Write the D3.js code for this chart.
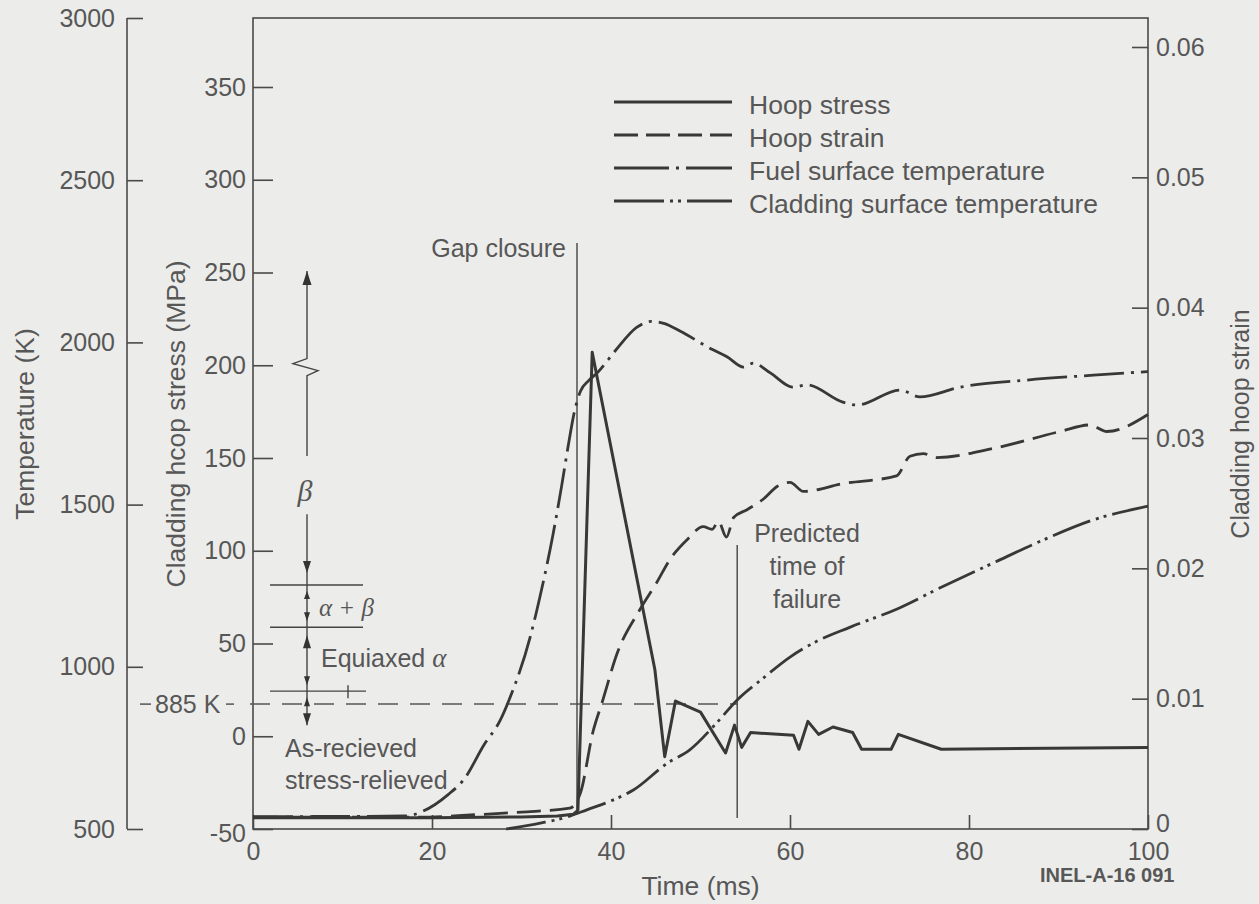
<!DOCTYPE html>
<html>
<head>
<meta charset="utf-8">
<script src="https://cdn.jsdelivr.net/npm/d3@7"></script>
<style>
  html, body { margin: 0; padding: 0; background: #ececea; }
  svg { display: block; }
  text { font-family: "Liberation Sans", Arial, Helvetica, sans-serif; fill: #575757; }
  .serif { font-family: "Liberation Serif", "Times New Roman", serif; }
</style>
</head>
<body>
<svg id="chart" width="1259" height="904"></svg>
<script>
// ---- axis ticks ----
const timeTicks   = [0, 20, 40, 60, 80, 100];
const stressTicks = [-50, 0, 50, 100, 150, 200, 250, 300, 350];
const tempTicks   = [500, 1000, 1500, 2000, 2500, 3000];
const strainTicks = [0, 0.01, 0.02, 0.03, 0.04, 0.05, 0.06];

// ---- series: [time (ms), value] ----
// cladding hoop stress, MPa
const hoopStress = [
  [0, -44], [10, -44], [20, -44], [30, -43.5], [34, -43], [35.8, -42], [36.3, -40],
  [37.9, 207], [44.9, 36], [46.0, -11], [47.2, 19], [50.0, 13], [52.8, -9],
  [53.8, 6], [54.6, -6], [55.6, 2], [60.4, 0.5], [61.0, -7], [62.0, 8], [63.2, 1],
  [64.8, 5], [67.0, 2], [68.0, -7], [71.3, -7], [72.1, 1], [76.9, -7], [100, -6]
];
// cladding hoop strain
const hoopStrain = [
  [0, 0.0009], [18, 0.0009], [25, 0.0011], [30, 0.0013], [35.4, 0.0016], [36.6, 0.0028],
  [38.0, 0.0075], [39.0, 0.0097], [40.7, 0.0135], [43.2, 0.0168], [45.1, 0.0189],
  [46.6, 0.0207], [48.5, 0.0222], [50.3, 0.0232], [51.3, 0.0230], [52.0, 0.0236],
  [52.9, 0.0224], [53.7, 0.0239], [55.2, 0.0245], [57.0, 0.0253], [58.6, 0.0263],
  [60.0, 0.0266], [61.5, 0.0259], [65.9, 0.0265], [71.9, 0.0271], [73.4, 0.0286],
  [74.9, 0.0288], [76.4, 0.0285], [82.7, 0.0292], [90.2, 0.0305], [93.5, 0.0310],
  [95.4, 0.0305], [100, 0.0318]
];
// fuel surface temperature, K
const fuelTemp = [
  [0, 538], [17, 540], [19, 555], [21.8, 606], [23.6, 654], [25.8, 759], [27.6, 834],
  [28.6, 897], [31.0, 1095], [32.3, 1245], [33.5, 1405], [34.5, 1560], [35.2, 1678],
  [35.9, 1785], [36.6, 1850], [37.5, 1882], [38.5, 1907], [40.5, 1975], [42.9, 2047],
  [44.5, 2065], [46.0, 2058], [47.7, 2035], [51.4, 1977], [53.0, 1955], [54.8, 1924],
  [55.9, 1936], [57.8, 1906], [60.3, 1862], [61.9, 1869], [65.9, 1816], [67.5, 1807],
  [72.3, 1853], [74.5, 1832], [79.0, 1862], [86.5, 1884], [93.9, 1899], [100, 1910]
];
// cladding surface temperature, K
const cladTemp = [
  [28.3, 500], [32.1, 518], [35.1, 537], [37.3, 559], [40.2, 589], [42.5, 620],
  [46.3, 703], [48.8, 744], [51.8, 827], [54.1, 898], [57.0, 965], [60.0, 1030],
  [62.8, 1076], [66.8, 1123], [72.1, 1180], [76.9, 1245], [82.7, 1320], [88.3, 1391],
  [93.9, 1453], [100, 1495]
];

// ---- event markers ----
const gapClosureTime = 36.2;      // ms
const failureTime = 54.1;         // ms
const transitionTemp = 885;       // K
// zircaloy phase boundaries on the temperature scale, K
const phaseBounds = [1252, 1122, 925];

const legendItems = [
  { label: "Hoop stress", dash: null },
  { label: "Hoop strain", dash: "24,8" },
  { label: "Fuel surface temperature", dash: "55,7,3,7,55" },
  { label: "Cladding surface temperature", dash: "50,6,3,5,3,6,50" }
];

// ---- layout ----
const L = 253, R = 1148, T = 18, B = 829;
const svg = d3.select("#chart");
const ink = "#383838";
const plain = d => String(d).replace("\u2212", "-");

const x = d3.scaleLinear().domain([0, 100]).range([L, R]);
const yStress = d3.scaleLinear().domain([-50, 350]).range([B, 87]);
const yTemp = d3.scaleLinear().domain([500, 3000]).range([B, T]);
const yStrain = d3.scaleLinear().domain([0, 0.06]).range([B, 47]);

function styleAxis(g, size) {
  g.select(".domain").remove();
  g.selectAll(".tick line").attr("stroke", "#4a4a4a").attr("stroke-width", 1.6);
  g.selectAll(".tick text").attr("font-size", size).attr("fill", "#575757")
    .attr("font-family", "'Liberation Sans', Arial, sans-serif");
}

// plot frame
svg.append("rect").attr("x", L).attr("y", T).attr("width", R - L).attr("height", B - T)
  .attr("fill", "none").attr("stroke", "#4a4a4a").attr("stroke-width", 1.6);

// temperature axis (outer left)
const tempG = svg.append("g").attr("transform", "translate(127,0)")
  .call(d3.axisLeft(yTemp).tickValues(tempTicks).tickFormat(plain)
    .tickSizeInner(-16).tickSizeOuter(0).tickPadding(12));
styleAxis(tempG, 25);
tempG.append("line").attr("y1", T).attr("y2", B).attr("stroke", "#4a4a4a").attr("stroke-width", 1.6);

// stress axis (frame left)
const stressG = svg.append("g").attr("transform", `translate(${L},0)`)
  .call(d3.axisLeft(yStress).tickValues(stressTicks).tickFormat(plain)
    .tickSizeInner(-20).tickSizeOuter(0).tickPadding(7));
styleAxis(stressG, 25);
stressG.selectAll(".tick").filter(d => d === -50).select("text").attr("dy", "0.5em");

// strain axis (right)
const strainG = svg.append("g").attr("transform", `translate(${R},0)`)
  .call(d3.axisRight(yStrain).tickValues(strainTicks).tickSizeInner(-16).tickSizeOuter(0).tickPadding(8)
    .tickFormat(d => d === 0 ? "0" : d3.format(".2f")(d)));
styleAxis(strainG, 25);
strainG.selectAll(".tick").filter(d => d === 0).select("text").attr("dy", "0.1em");

// time axis
const timeG = svg.append("g").attr("transform", `translate(0,${B})`)
  .call(d3.axisBottom(x).tickValues(timeTicks).tickFormat(plain)
    .tickSizeInner(-14).tickSizeOuter(0).tickPadding(13));
styleAxis(timeG, 25);

// axis titles
const titleSize = 26.5;
svg.append("text").attr("transform", "translate(34,424) rotate(-90)")
  .attr("text-anchor", "middle").attr("font-size", titleSize).text("Temperature (K)");
svg.append("text").attr("transform", "translate(185,424) rotate(-90)")
  .attr("text-anchor", "middle").attr("font-size", titleSize).text("Cladding hcop stress (MPa)");
svg.append("text").attr("transform", "translate(1249,424) rotate(-90)")
  .attr("text-anchor", "middle").attr("font-size", 25).text("Cladding hoop strain");
svg.append("text").attr("x", x(50)).attr("y", 895)
  .attr("text-anchor", "middle").attr("font-size", titleSize).text("Time (ms)");
svg.append("text").attr("x", 1040).attr("y", 882).attr("font-size", 20)
  .attr("font-weight", "bold").attr("fill", "#4a4a4a").text("INEL-A-16  091");

// ---- 885 K reference line ----
const y885 = yTemp(transitionTemp);
svg.append("line").attr("x1", 140).attr("x2", 151).attr("y1", y885).attr("y2", y885)
  .attr("stroke", "#555").attr("stroke-width", 1.5);
svg.append("text").attr("x", 155).attr("y", y885).attr("dy", "0.36em")
  .attr("font-size", 25).text("885 K");
svg.append("line").attr("x1", 226).attr("x2", 234).attr("y1", y885).attr("y2", y885)
  .attr("stroke", "#555").attr("stroke-width", 1.5);
svg.append("line").attr("x1", 250).attr("x2", x(failureTime)).attr("y1", y885).attr("y2", y885)
  .attr("stroke", "#555").attr("stroke-width", 1.5).attr("stroke-dasharray", "20,12");

// ---- event lines ----
svg.append("line").attr("x1", x(gapClosureTime)).attr("x2", x(gapClosureTime))
  .attr("y1", 243).attr("y2", yStress(-42))
  .attr("stroke", "#444").attr("stroke-width", 1.4);
svg.append("text").attr("x", x(gapClosureTime) - 11).attr("y", 248).attr("dy", "0.36em")
  .attr("text-anchor", "end").attr("font-size", 25).text("Gap closure");

svg.append("line").attr("x1", x(failureTime)).attr("x2", x(failureTime))
  .attr("y1", 545).attr("y2", 818)
  .attr("stroke", "#444").attr("stroke-width", 1.4);
["Predicted", "time of", "failure"].forEach((s, i) => {
  svg.append("text").attr("x", 807).attr("y", 533 + i * 33).attr("dy", "0.36em")
    .attr("text-anchor", "middle").attr("font-size", 25).text(s);
});

// ---- phase scale (left, on temperature scale) ----
const px = 307;
const phase = svg.append("g").attr("stroke", "#444").attr("stroke-width", 1.4).attr("fill", "none");
const yTop = yTemp(2220), yZig = yTemp(1950), yGapA = yTemp(1650), yGapB = yTemp(1470), yBot = yTemp(820);
phase.append("path").attr("d",
  `M${px},${yTop} L${px},${yZig} L${px - 14},${yZig + 5} L${px + 11},${yZig + 12} L${px},${yZig + 17} L${px},${yGapA}`);
phase.append("path").attr("d", `M${px},${yGapB} L${px},${yBot}`);
phaseBounds.forEach((b, i) => {
  phase.append("line").attr("x1", 270).attr("x2", i === 2 ? 366 : 363)
    .attr("y1", yTemp(b)).attr("y2", yTemp(b));
});
phase.append("line").attr("x1", 348).attr("x2", 348)
  .attr("y1", yTemp(phaseBounds[2]) - 6).attr("y2", yTemp(phaseBounds[2]) + 7);

function arrowHead(tipY, dir, w, h) {
  // dir = -1 points up, +1 points down
  const baseY = tipY - dir * h;
  svg.append("path")
    .attr("d", `M${px},${tipY} L${px - w / 2},${baseY} L${px + w / 2},${baseY} Z`)
    .attr("fill", "#333");
}
arrowHead(yTop, -1, 9, 14);
arrowHead(yTemp(phaseBounds[0]) - 12, 1, 8, 12);
arrowHead(yTemp(phaseBounds[0]) + 6, -1, 6, 8);
arrowHead(yTemp(phaseBounds[1]) - 6, 1, 6, 9);
arrowHead(yTemp(phaseBounds[1]) + 8, -1, 8, 13);
arrowHead(yTemp(phaseBounds[2]) - 6, 1, 6, 9);
arrowHead(yTemp(phaseBounds[2]) + 6, -1, 6, 9);
arrowHead(yBot, 1, 8, 12);

svg.append("text").attr("class", "serif").attr("x", px - 2).attr("y", yTemp(1545)).attr("dy", "0.36em")
  .attr("text-anchor", "middle").attr("font-size", 30).attr("font-style", "italic").text("β");
svg.append("text").attr("class", "serif").attr("x", 319)
  .attr("y", (yTemp(phaseBounds[0]) + yTemp(phaseBounds[1])) / 2 + 1).attr("dy", "0.36em")
  .attr("font-size", 25).attr("font-style", "italic").text("α + β");
const eq = svg.append("text").attr("x", 321)
  .attr("y", (yTemp(phaseBounds[1]) + yTemp(phaseBounds[2])) / 2 - 1).attr("dy", "0.36em")
  .attr("font-size", 25);
eq.append("tspan").text("Equiaxed ");
eq.append("tspan").attr("class", "serif").attr("font-style", "italic").attr("font-size", 27).text("α");
svg.append("text").attr("x", 285).attr("y", 748).attr("dy", "0.36em").attr("font-size", 25).text("As-recieved");
svg.append("text").attr("x", 285).attr("y", 780).attr("dy", "0.36em").attr("font-size", 25).text("stress-relieved");

// ---- curves ----
const curves = [
  { data: cladTemp, y: yTemp, dash: "40,6,3,5,3,6", w: 2.8, curve: d3.curveMonotoneX },
  { data: fuelTemp, y: yTemp, dash: "40,7,3,7", w: 2.8, curve: d3.curveMonotoneX },
  { data: hoopStrain, y: yStrain, dash: "24,9", w: 2.8, curve: d3.curveMonotoneX },
  { data: hoopStress, y: yStress, dash: null, w: 3, curve: d3.curveLinear }
];
curves.forEach(c => {
  const line = d3.line().x(d => x(d[0])).y(d => c.y(d[1])).curve(c.curve);
  svg.append("path").datum(c.data).attr("d", line)
    .attr("fill", "none").attr("stroke", ink).attr("stroke-width", c.w)
    .attr("stroke-linejoin", "round")
    .attr("stroke-dasharray", c.dash);
});

// ---- legend ----
const legY = [104, 137, 170, 203];
legendItems.forEach((it, i) => {
  svg.append("line").attr("x1", 614).attr("x2", 732).attr("y1", legY[i] - 2).attr("y2", legY[i] - 2)
    .attr("stroke", ink).attr("stroke-width", 2.8).attr("stroke-dasharray", it.dash);
  svg.append("text").attr("x", 749).attr("y", legY[i]).attr("dy", "0.36em")
    .attr("font-size", 26.5).text(it.label);
});
</script>
</body>
</html>
